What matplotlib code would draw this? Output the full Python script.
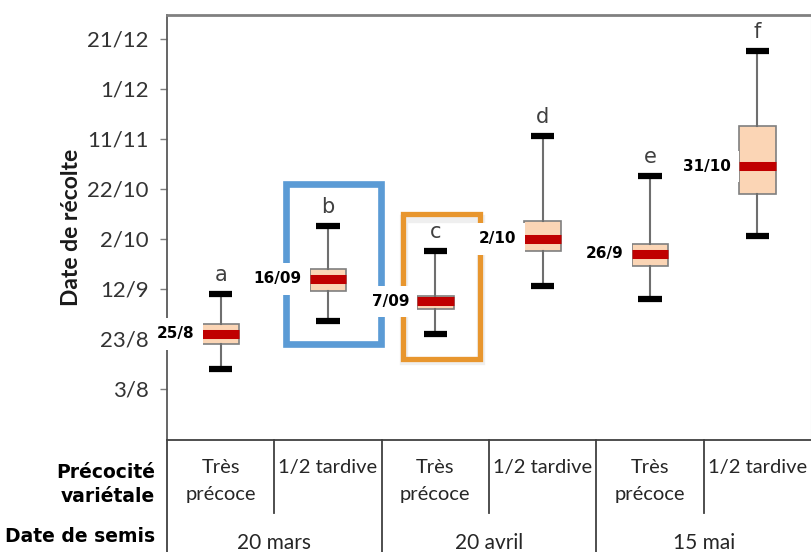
import datetime as dt

import matplotlib
matplotlib.use("Agg")
import matplotlib.pyplot as plt
import matplotlib.dates as mdates
from matplotlib.patches import Rectangle

plt.rcParams["font.family"] = ["Lato", "DejaVu Sans"]

YEAR = 2014


def d(s):
    # "DD/MM" -> matplotlib date number
    day, month = (int(v) for v in s.split("/"))
    return mdates.date2num(dt.date(YEAR, month, day))


# groups of letters (statistical classes)
letters = ["a", "b", "c", "d", "e", "f"]
precocite = ["Très\nprécoce", "1/2 tardive"] * 3
semis = ["20 mars", "20 avril", "15 mai"]

# box statistics
whisker_low = ["11/8", "30/8", "25/8", "13/9", "8/9", "3/10"]
q1 = ["21/8", "11/9", "4/9", "27/9", "21/9", "20/10"]
median = ["25/8", "16/9", "7/9", "2/10", "26/9", "31/10"]
q3 = ["29/8", "20/9", "9/9", "9/10", "30/9", "16/11"]
whisker_high = ["10/9", "7/10", "27/9", "12/11", "27/10", "16/12"]
median_labels = ["25/8", "16/09", "7/09", "2/10", "26/9", "31/10"]

ytick_labels = ["3/8", "23/8", "12/9", "2/10", "22/10", "11/11", "1/12", "21/12"]

fig = plt.figure(figsize=(8.11, 5.52), dpi=100)
ax = fig.add_axes([167 / 811, 112 / 552, 644 / 811, 425 / 552])

positions = list(range(1, len(letters) + 1))
stats = []
for lo, a, m, b, hi in zip(whisker_low, q1, median, q3, whisker_high):
    stats.append(dict(whislo=d(lo), q1=d(a), med=d(m), q3=d(b), whishi=d(hi), fliers=[]))

ax.bxp(stats, positions=positions, widths=0.34, capwidths=0.22,
       patch_artist=True, showfliers=False,
       boxprops=dict(facecolor="#FBD5B5", edgecolor="#7F7F7F", linewidth=1.2),
       medianprops=dict(color="#C00000", linewidth=6.5, solid_capstyle="butt"),
       whiskerprops=dict(color="#6F6F6F", linewidth=1.5),
       capprops=dict(color="black", linewidth=4.5, solid_capstyle="butt"))

for x, letter, hi in zip(positions, letters, whisker_high):
    ax.annotate(letter, (x, d(hi)), xytext=(0, 14), textcoords="offset points",
                ha="center", va="center", fontsize=15, color="#404040",
                family="DejaVu Sans")

for x, m, lab in zip(positions, median, median_labels):
    ax.text(x - 0.17 - 0.075, d(m), lab, ha="right", va="center",
            fontsize=11, fontweight="bold", family="DejaVu Sans",
            bbox=dict(facecolor="white", edgecolor="none", boxstyle="square,pad=0.55"),
            zorder=6)

# highlight frames
blue = Rectangle((1.61, d("21/8")), 0.88, d("24/10") - d("21/8"),
                 fill=False, edgecolor="#5B9BD5", linewidth=4.8, zorder=4)
shadow = Rectangle((2.71, d("14/8")), 0.72, d("11/10") - d("15/8"),
                   fill=False, edgecolor="#999999", linewidth=6, alpha=0.15, zorder=3)
orange = Rectangle((2.70, d("15/8")), 0.72, d("12/10") - d("15/8"),
                   fill=False, edgecolor="#E8962E", linewidth=3.8, zorder=4)
for r in (blue, shadow, orange):
    ax.add_patch(r)

ax.set_xlim(0.5, 6.5)
ax.set_ylim(d("3/8") - 20.4, d("21/12") + 9.6)
ax.set_xticks([])
ax.set_yticks([d(t) for t in ytick_labels])
ax.set_yticklabels(ytick_labels)
ax.tick_params(axis="y", length=5, width=1, color="#7F7F7F", pad=8,
               labelsize=16, labelcolor="#333333")

ax.spines["left"].set_color("#595959")
ax.spines["left"].set_linewidth(1.3)
ax.spines["top"].set_color("#808080")
ax.spines["top"].set_linewidth(2)
ax.spines["right"].set_color("#D9D9D9")
ax.spines["bottom"].set_color("#404040")
ax.spines["bottom"].set_linewidth(1.3)

ax.set_ylabel("Date de récolte", fontsize=16.5, fontweight="bold", color="#1a1a1a")
ax.yaxis.set_label_coords(-0.132, 0.5)

# table below the plot
trans = ax.get_xaxis_transform()
for x in [0.5, 2.5, 4.5]:
    ax.plot([x, x], [0, -0.27], transform=trans, clip_on=False, color="#404040", lw=1.3)
for x in [1.5, 3.5, 5.5]:
    ax.plot([x, x], [0, -0.172], transform=trans, clip_on=False, color="#404040", lw=1.3)

for x, lab in zip(positions, precocite):
    ax.text(x, -0.045, lab, transform=trans, ha="center", va="top",
            fontsize=14.5, linespacing=1.7, color="#262626")
for i, lab in enumerate(semis):
    ax.text(1.5 + 2 * i, -0.2424, lab, transform=trans, ha="center", va="center",
            fontsize=15, color="#262626")

for y, lab in [(473, "Précocité"), (497, "variétale"), (537, "Date de semis")]:
    fig.text(155 / 811, 1 - y / 552, lab, ha="right", va="center", fontsize=13.5,
             fontweight="bold", family="DejaVu Sans")

fig.savefig("out.png", dpi=100)
